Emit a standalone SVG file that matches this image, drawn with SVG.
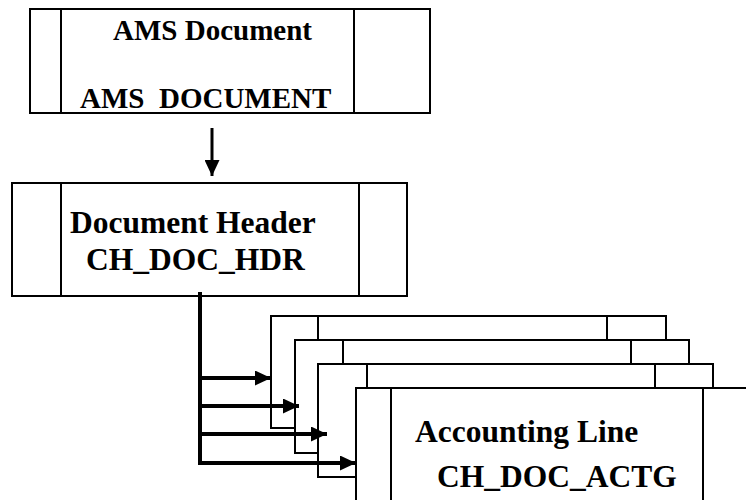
<svg xmlns="http://www.w3.org/2000/svg" width="746" height="500" viewBox="0 0 746 500">
  <defs>
    <style>
      .box { fill: #fff; stroke: #000; stroke-width: 2; }
      .div { stroke: #000; stroke-width: 2; fill: none; }
      .t { font-family: "Liberation Serif", "Times New Roman", serif; font-weight: bold; fill: #000; white-space: pre; }
      .conn { stroke: #000; fill: none; }
    </style>
    <marker id="ah" markerUnits="userSpaceOnUse" markerWidth="17" markerHeight="15" refX="16" refY="7.5" orient="auto">
      <path d="M0,0 L16,7.5 L0,15 Z" fill="#000"/>
    </marker>
  </defs>
  <rect width="746" height="500" fill="#fff"/>

  <g id="ams-document">
    <rect class="box" x="30" y="9" width="400" height="104"/>
    <line class="div" x1="61" y1="9" x2="61" y2="113"/>
    <line class="div" x1="354" y1="9" x2="354" y2="113"/>
    <text class="t" x="113" y="40" font-size="29">AMS Document</text>
    <text class="t" x="80" y="108" font-size="29">AMS  DOCUMENT</text>
  </g>

  <g id="document-header">
    <rect class="box" x="12" y="183" width="395" height="113"/>
    <line class="div" x1="61" y1="183" x2="61" y2="296"/>
    <line class="div" x1="359" y1="183" x2="359" y2="296"/>
    <text class="t" x="70" y="233" font-size="31.5">Document Header</text>
    <text class="t" x="86" y="270" font-size="31.5">CH_DOC_HDR</text>
  </g>

  <g id="accounting-line-1">
    <rect class="box" x="271" y="316" width="395" height="112"/>
    <line class="div" x1="318" y1="316" x2="318" y2="428"/>
    <line class="div" x1="607" y1="316" x2="607" y2="428"/>
  </g>
  <g id="accounting-line-2">
    <rect class="box" x="295" y="340" width="394" height="113"/>
    <line class="div" x1="343" y1="340" x2="343" y2="453"/>
    <line class="div" x1="631" y1="340" x2="631" y2="453"/>
  </g>
  <g id="accounting-line-3">
    <rect class="box" x="318" y="364" width="395" height="113"/>
    <line class="div" x1="367" y1="364" x2="367" y2="477"/>
    <line class="div" x1="655" y1="364" x2="655" y2="477"/>
  </g>
  <g id="accounting-line-4">
    <rect class="box" x="356" y="388" width="420" height="130"/>
    <line class="div" x1="391" y1="388" x2="391" y2="518"/>
    <line class="div" x1="703" y1="388" x2="703" y2="518"/>
    <text class="t" x="415" y="442" font-size="31.5">Accounting Line</text>
    <text class="t" x="437" y="487" font-size="31.5">CH_DOC_ACTG</text>
  </g>

  <g id="connectors">
    <line class="conn" stroke-width="3" x1="212" y1="128" x2="212" y2="176" marker-end="url(#ah)"/>
    <line class="conn" stroke-width="4" x1="200" y1="292" x2="200" y2="465"/>
    <line class="conn" stroke-width="4" x1="198" y1="378" x2="271" y2="378" marker-end="url(#ah)"/>
    <line class="conn" stroke-width="4" x1="198" y1="406" x2="299" y2="406" marker-end="url(#ah)"/>
    <line class="conn" stroke-width="4" x1="198" y1="434" x2="327" y2="434" marker-end="url(#ah)"/>
    <line class="conn" stroke-width="4" x1="198" y1="463" x2="356" y2="463" marker-end="url(#ah)"/>
  </g>
</svg>
